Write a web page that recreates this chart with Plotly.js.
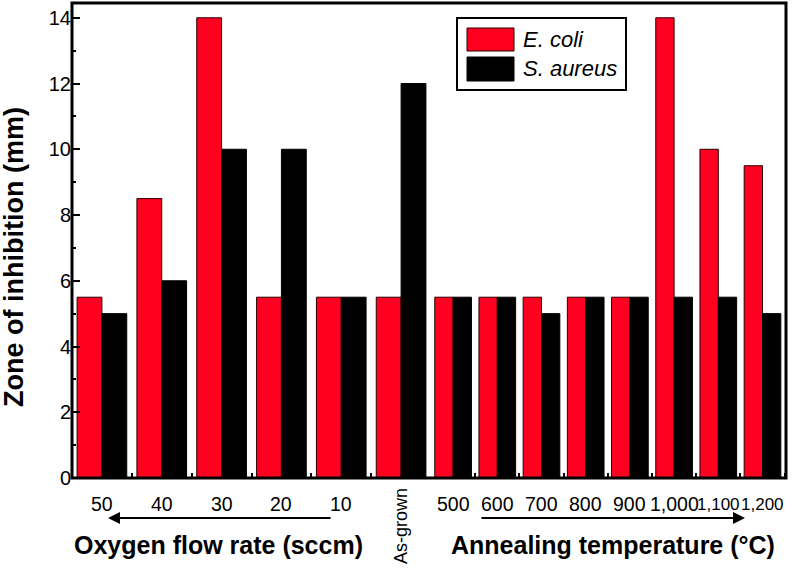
<!DOCTYPE html>
<html>
<head>
<meta charset="utf-8">
<script src="https://cdn.plot.ly/plotly-3.0.1.min.js"></script>
<style>
  body { margin: 0; background: #fff; }
  #plot { width: 792px; height: 568px; }
</style>
</head>
<body>
<div id="plot"></div>
<script>
// categories: oxygen flow rate (sccm) + as-grown, then annealing temperature (°C)
var flowCats = ["50", "40", "30", "20", "10", "As-grown"];
var annealCats = ["500", "600", "700", "800", "900", "1,000", "1,100", "1,200"];

// zone of inhibition (mm), same order as the categories above
var eColiFlow = [5.5, 8.5, 14, 5.5, 5.5, 5.5];
var eColiAnneal = [5.5, 5.5, 5.5, 5.5, 5.5, 14, 10, 9.5];
var sAureusFlow = [5, 6, 10, 10, 5.5, 12];
var sAureusAnneal = [5.5, 5.5, 5, 5.5, 5.5, 5.5, 5.5, 5];

var font = "Liberation Sans, Arial, sans-serif";
var red = "#ff0020";

// plot area in pixels, used to turn pixel spots into paper coords
var L = 72, R = 786, T = 3, B = 478;
function px(x) { return (x - L) / (R - L); }
function py(y) { return (B - y) / (B - T); }
var split = px(431);

function bars(x, y, xa, color, edge) {
  return {
    x: x, y: y, xaxis: xa, yaxis: "y", type: "bar",
    marker: { color: color, line: { color: edge, width: 1 } },
    showlegend: false, hoverinfo: "y"
  };
}

var traces = [
  bars(flowCats, eColiFlow, "x", red, "#2a0000"),
  bars(flowCats, sAureusFlow, "x", "#000", "#000"),
  bars(annealCats, eColiAnneal, "x2", red, "#2a0000"),
  bars(annealCats, sAureusAnneal, "x2", "#000", "#000")
];

// tick labels as annotations so "As-grown" can stand upright
var annotations = [];
function tickLabels(cats, xref) {
  cats.forEach(function (c, i) {
    if (c === "As-grown") {
      annotations.push({ x: i, xref: xref, y: py(486), yref: "paper", yanchor: "top", xanchor: "center",
        text: c, showarrow: false, textangle: -90,
        font: { family: font, size: 18, color: "#000" } });
      return;
    }
    var small = (c === "1,100" || c === "1,200");
    annotations.push({ x: i, xref: xref, y: py(504), yref: "paper", yanchor: "middle", xanchor: "center",
      text: c, showarrow: false,
      font: { family: font, size: small ? 17 : 19.5, color: "#000" } });
  });
}
tickLabels(flowCats, "x");
tickLabels(annealCats, "x2");

// arrows under the two groups
annotations.push({
  x: px(108), y: py(518), xref: "paper", yref: "paper",
  ax: px(332), ay: py(518), axref: "paper", ayref: "paper",
  text: "", showarrow: true, arrowhead: 2, arrowsize: 1.2, arrowwidth: 2, arrowcolor: "#000"
});
annotations.push({
  x: px(745), y: py(518), xref: "paper", yref: "paper",
  ax: px(480), ay: py(518), axref: "paper", ayref: "paper",
  text: "", showarrow: true, arrowhead: 2, arrowsize: 1.2, arrowwidth: 2, arrowcolor: "#000"
});

// group titles and y title
annotations.push({
  x: px(218), y: py(545), xref: "paper", yref: "paper", xanchor: "center", yanchor: "middle", showarrow: false,
  text: "<b>Oxygen flow rate (sccm)</b>", font: { family: font, size: 25, color: "#000" }
});
annotations.push({
  x: px(613), y: py(545), xref: "paper", yref: "paper", xanchor: "center", yanchor: "middle", showarrow: false,
  text: "<b>Annealing temperature (°C)</b>", font: { family: font, size: 25, color: "#000" }
});
annotations.push({
  x: px(14), y: py(257), xref: "paper", yref: "paper", xanchor: "center", yanchor: "middle", showarrow: false,
  textangle: -90, text: "<b>Zone of inhibition (mm)</b>", font: { family: font, size: 27, color: "#000" }
});

// legend text
annotations.push({
  x: px(521), y: py(40), xref: "paper", yref: "paper", xanchor: "left", yanchor: "middle", showarrow: false,
  text: "<i>E. coli</i>", font: { family: font, size: 22, color: "#000" }
});
annotations.push({
  x: px(521), y: py(69), xref: "paper", yref: "paper", xanchor: "left", yanchor: "middle", showarrow: false,
  text: "<i>S. aureus</i>", font: { family: font, size: 22, color: "#000" }
});

var shapes = [
  // outer frame
  { type: "rect", xref: "paper", yref: "paper", x0: 0, x1: 1, y0: 0, y1: 1,
    line: { color: "#000", width: 3 } },
  // legend box and swatches
  { type: "rect", xref: "paper", yref: "paper", x0: px(457), x1: px(626), y0: py(18), y1: py(90),
    line: { color: "#000", width: 2 }, fillcolor: "#fff" },
  { type: "rect", xref: "paper", yref: "paper", x0: px(467), x1: px(514), y0: py(28), y1: py(51),
    line: { color: "#2a0000", width: 1 }, fillcolor: red },
  { type: "rect", xref: "paper", yref: "paper", x0: px(467), x1: px(514), y0: py(57), y1: py(81),
    line: { color: "#000", width: 1 }, fillcolor: "#000" }
];

function xAxis(domain) {
  return {
    type: "category", domain: domain, anchor: "y", showticklabels: false,
    showline: false, ticks: "inside", tickson: "boundaries", ticklen: 5, tickwidth: 2, tickcolor: "#000",
    showgrid: false, zeroline: false
  };
}

var layout = {
  width: 792, height: 568,
  margin: { l: L, r: 792 - R, t: T, b: 568 - B },
  paper_bgcolor: "#fff", plot_bgcolor: "#fff",
  barmode: "group", bargap: 0.17, bargroupgap: 0,
  font: { family: font, color: "#000" },
  xaxis: xAxis([0, split]),
  xaxis2: xAxis([split, 1]),
  yaxis: {
    range: [0, 14.45], tickvals: [0, 2, 4, 6, 8, 10, 12, 14],
    showline: false, anchor: "x",
    ticks: "inside", ticklen: 8, tickwidth: 2, tickcolor: "#000",
    minor: { tickvals: [1, 3, 5, 7, 9, 11, 13], ticks: "inside", ticklen: 4, tickwidth: 2, tickcolor: "#000" },
    tickfont: { family: font, size: 20, color: "#000" },
    showgrid: false, zeroline: false
  },
  annotations: annotations,
  shapes: shapes
};

Plotly.newPlot("plot", traces, layout, { displayModeBar: false, staticPlot: true });
</script>
</body>
</html>
